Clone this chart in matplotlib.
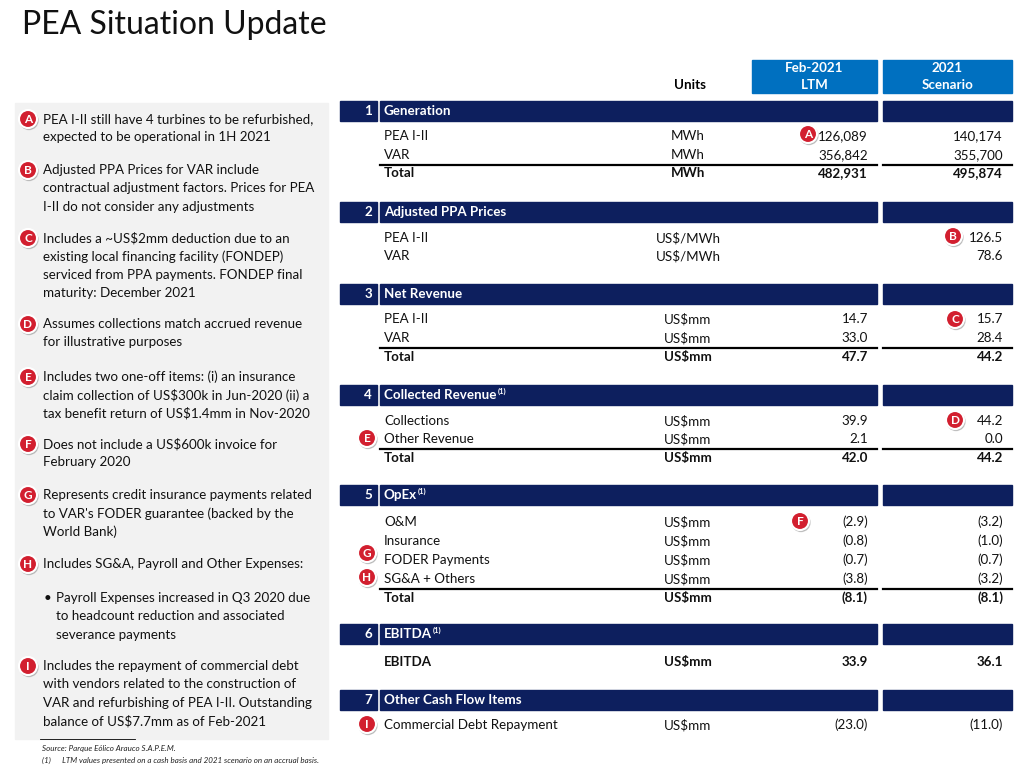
import matplotlib
matplotlib.use("Agg")
import matplotlib.pyplot as plt
from matplotlib.patches import Rectangle, Circle

plt.rcParams['font.family'] = ['Lato', 'DejaVu Sans']

title = "PEA Situation Update"
col_headers = [("Feb-2021", "LTM"), ("2021", "Scenario")]

sections = [
    ("1", "Generation", False),
    ("2", "Adjusted PPA Prices", False),
    ("3", "Net Revenue", False),
    ("4", "Collected Revenue", True),
    ("5", "OpEx", True),
    ("6", "EBITDA", True),
    ("7", "Other Cash Flow Items", False),
]
section_y = [111, 212, 294, 395, 495, 634, 700]

# rows: (label, unit, ltm, scenario, bold, y, total_line)
rows = [
    ("PEA I-II", "MWh", "126,089", "140,174", False, 136),
    ("VAR", "MWh", "356,842", "355,700", False, 155),
    ("Total", "MWh", "482,931", "495,874", True, 173),
    ("PEA I-II", "US$/MWh", "", "126.5", False, 238),
    ("VAR", "US$/MWh", "", "78.6", False, 256),
    ("PEA I-II", "US$mm", "14.7", "15.7", False, 319),
    ("VAR", "US$mm", "33.0", "28.4", False, 338),
    ("Total", "US$mm", "47.7", "44.2", True, 357),
    ("Collections", "US$mm", "39.9", "44.2", False, 421),
    ("Other Revenue", "US$mm", "2.1", "0.0", False, 439),
    ("Total", "US$mm", "42.0", "44.2", True, 458),
    ("O&M", "US$mm", "(2.9)", "(3.2)", False, 522),
    ("Insurance", "US$mm", "(0.8)", "(1.0)", False, 541),
    ("FODER Payments", "US$mm", "(0.7)", "(0.7)", False, 560),
    ("SG&A + Others", "US$mm", "(3.8)", "(3.2)", False, 579),
    ("Total", "US$mm", "(8.1)", "(8.1)", True, 598),
    ("EBITDA", "US$mm", "33.9", "36.1", True, 662),
    ("Commercial Debt Repayment", "US$mm", "(23.0)", "(11.0)", False, 725),
]
total_lines_y = [165, 348, 449, 589]

table_badges = [("A", 808, 134), ("B", 953, 236), ("C", 955, 319), ("D", 955, 420),
                ("E", 367, 438), ("F", 800, 521), ("G", 367, 553), ("H", 367, 577),
                ("I", 367, 724)]

notes = [
    ("A", 119, ["PEA I-II still have 4 turbines to be refurbished,", "expected to be operational in 1H 2021"]),
    ("B", 170, ["Adjusted PPA Prices for VAR include", "contractual adjustment factors. Prices for PEA", "I-II do not consider any adjustments"]),
    ("C", 238, ["Includes a ~US$2mm deduction due to an", "existing local financing facility (FONDEP)", "serviced from PPA payments. FONDEP final", "maturity: December 2021"]),
    ("D", 324, ["Assumes collections match accrued revenue", "for illustrative purposes"]),
    ("E", 377, ["Includes two one-off items: (i) an insurance", "claim collection of US$300k in Jun-2020 (ii) a", "tax benefit return of US$1.4mm in Nov-2020"]),
    ("F", 444, ["Does not include a US$600k invoice for", "February 2020"]),
    ("G", 495, ["Represents credit insurance payments related", "to VAR's FODER guarantee (backed by the", "World Bank)"]),
    ("H", 564, ["Includes SG&A, Payroll and Other Expenses:"]),
    ("I", 666, ["Includes the repayment of commercial debt", "with vendors related to the construction of", "VAR and refurbishing of PEA I-II. Outstanding", "balance of US$7.7mm as of Feb-2021"]),
]
bullet_lines = ["Payroll Expenses increased in Q3 2020 due", "to headcount reduction and associated", "severance payments"]
source = "Source: Parque Eólico Arauco S.A.P.E.M."
footnote = "(1)      LTM values presented on a cash basis and 2021 scenario on an accrual basis."

NAVY = "#0d1f5e"
BLUE = "#0070c0"
RED = "#d21f2f"
FS = 9.6

fig = plt.figure(figsize=(10.16, 7.76), dpi=100)
ax = fig.add_axes([0, 0, 1, 1])
ax.set_xlim(0, 1016)
ax.set_ylim(776, 0)
ax.axis("off")

ax.text(22, 25, title, fontsize=23, va="center", ha="left", color="#111111")

# left panel
ax.add_patch(Rectangle((15, 103), 313, 636, color="#f2f2f2", zorder=0))

def badge(letter, x, y):
    ax.add_patch(Circle((x + 1, y + 1.5), 9, color="#999999", alpha=0.5, zorder=3))
    ax.add_patch(Circle((x, y), 9, facecolor=RED, edgecolor="white", lw=1.5, zorder=4))
    ax.text(x, y + 0.5, letter, color="white", fontsize=8.5, fontweight="bold",
            ha="center", va="center", zorder=5)

LH = 18.3
for letter, y, lines in notes:
    badge(letter, 28, y)
    for i, ln in enumerate(lines):
        ax.text(43, y + i * LH, ln, fontsize=FS, va="center", ha="left", color="#111111")
for i, ln in enumerate(bullet_lines):
    if i == 0:
        ax.text(44, 598, "•", fontsize=FS, va="center", color="#111111")
    ax.text(56, 598 + i * LH, ln, fontsize=FS, va="center", ha="left", color="#111111")

# headers
cols = [(752, 877, 868), (883, 1012, 1003)]
for (x0, x1, _), (h1, h2) in zip(cols, col_headers):
    ax.add_patch(Rectangle((x0, 60), x1 - x0, 33, color=BLUE))
    ax.text((x0 + x1) / 2, 68, h1, color="white", fontsize=FS, fontweight="bold", ha="center", va="center")
    ax.text((x0 + x1) / 2, 85, h2, color="white", fontsize=FS, fontweight="bold", ha="center", va="center")
ax.text(690, 85, "Units", fontsize=FS, fontweight="bold", ha="center", va="center")

fig.canvas.draw()
renderer = fig.canvas.get_renderer()
inv = ax.transData.inverted()
for (num, name, sup), y in zip(sections, section_y):
    ax.add_patch(Rectangle((340, y - 10), 37, 20, color=NAVY))
    ax.add_patch(Rectangle((380, y - 10), 497, 20, color=NAVY))
    ax.add_patch(Rectangle((883, y - 10), 129, 20, color=NAVY))
    ax.text(372, y, num, color="white", fontsize=FS, fontweight="bold", ha="right", va="center")
    t = ax.text(384, y, name, color="white", fontsize=FS, fontweight="bold", ha="left", va="center")
    if sup:
        bb = t.get_window_extent(renderer)
        xe = inv.transform((bb.x1, bb.y1))[0]
        ax.text(xe + 1, y - 4, "(1)", color="white", fontsize=5.5, fontweight="bold", ha="left", va="center")

for label, unit, v1, v2, bold, y in rows:
    fw = "bold" if bold else "normal"
    ax.text(384, y, label, fontsize=FS, fontweight=fw, ha="left", va="center", color="#111111")
    ax.text(688, y, unit, fontsize=FS, fontweight=fw, ha="center", va="center", color="#111111")
    ax.text(cols[0][2], y, v1, fontsize=FS, fontweight=fw, ha="right", va="center", color="#111111")
    ax.text(cols[1][2], y, v2, fontsize=FS, fontweight=fw, ha="right", va="center", color="#111111")

for y in total_lines_y:
    ax.plot([380, 877], [y, y], color="black", lw=1.6)
    ax.plot([883, 1012], [y, y], color="black", lw=1.6)

for letter, x, y in table_badges:
    badge(letter, x, y)

ax.plot([40, 135], [739, 739], color="black", lw=0.6)
ax.text(42, 748, source, fontsize=5.8, style="italic", va="center", color="#222222")
ax.text(42, 760, footnote, fontsize=5.8, style="italic", va="center", color="#222222")

fig.savefig("out.png", dpi=100)
